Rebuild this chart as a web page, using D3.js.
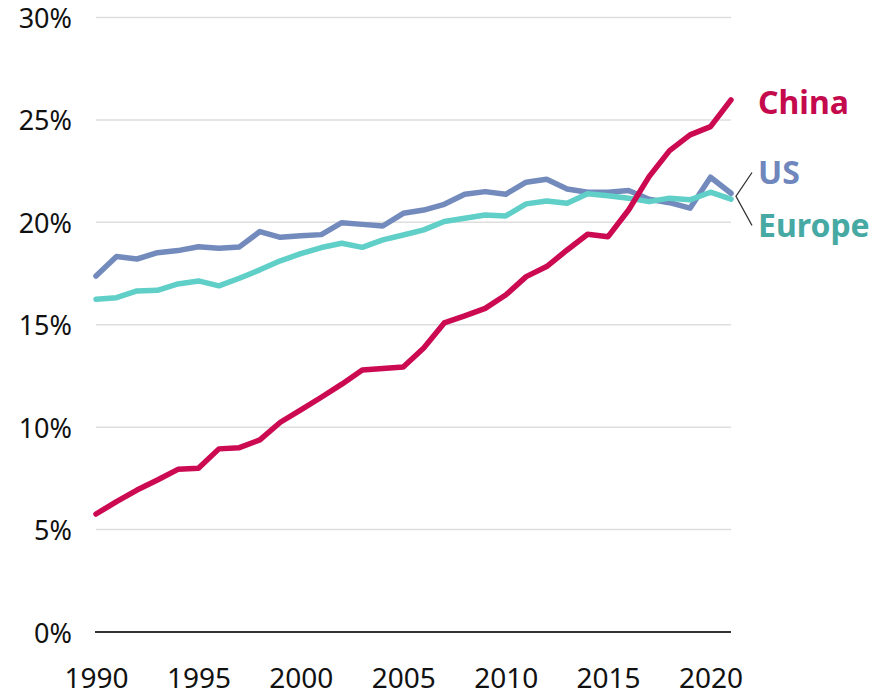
<!DOCTYPE html>
<html>
<head>
<meta charset="utf-8">
<script src="https://cdn.jsdelivr.net/npm/d3@7"></script>
<style>
  body { margin: 0; background: #fff; }
  svg text { font-family: "Noto Sans", sans-serif; }
</style>
</head>
<body>
<div id="chart"></div>
<script>
// Data (share, %)
var years = d3.range(1990, 2022);

var chinaVals = [5.76, 6.36, 6.93, 7.42, 7.94, 7.99, 8.94, 9.0, 9.38, 10.24,
    10.84, 11.46, 12.1, 12.79, 12.86, 12.94, 13.87, 15.09, 15.43, 15.8,
    16.45, 17.35, 17.84, 18.65, 19.42, 19.3, 20.6, 22.23, 23.5, 24.27,
    24.67, 25.98];

var usVals = [17.38, 18.33, 18.21, 18.52, 18.62, 18.81, 18.73, 18.8, 19.55, 19.27,
    19.34, 19.4, 19.98, 19.9, 19.82, 20.44, 20.6, 20.88, 21.37, 21.5,
    21.37, 21.96, 22.1, 21.63, 21.47, 21.47, 21.55, 21.13, 20.96, 20.69,
    22.2, 21.42];

var europeVals = [16.24, 16.32, 16.65, 16.68, 16.99, 17.14, 16.9, 17.27, 17.68, 18.12,
    18.47, 18.77, 18.98, 18.78, 19.14, 19.38, 19.63, 20.04, 20.2, 20.36,
    20.31, 20.9, 21.04, 20.93, 21.39, 21.3, 21.18, 21.01, 21.18, 21.1,
    21.47, 21.13];

var yTicks = [0, 5, 10, 15, 20, 25, 30];
var xTicks = [1990, 1995, 2000, 2005, 2010, 2015, 2020];

var series = [
    {name: "US", values: usVals, line: "#738abd", text: "#6f87bd"},
    {name: "Europe", values: europeVals, line: "#5fcfc8", text: "#46a9a3"},
    {name: "China", values: chinaVals, line: "#cc0a52", text: "#c40a4d"}
];

// svg setup
var svgWidth = 879;
var svgHeight = 695;
var margin = {top: 17.5, right: 148, bottom: 63, left: 96};
var width = svgWidth - margin.left - margin.right;
var height = svgHeight - margin.top - margin.bottom;

var svg = d3.select("#chart")
    .append("svg")
    .attr("width", svgWidth)
    .attr("height", svgHeight);

var chartGroup = svg.append("g")
    .attr("transform", `translate(${margin.left}, ${margin.top})`);

var xScale = d3.scaleLinear()
    .domain([1990, 2021])
    .range([0, width]);

var yScale = d3.scaleLinear()
    .domain([0, 30])
    .range([height, 0]);

// gridlines
chartGroup.selectAll(".grid")
    .data(yTicks.filter(d => d > 0))
    .enter()
    .append("line")
    .attr("x1", 0)
    .attr("x2", width)
    .attr("y1", d => yScale(d))
    .attr("y2", d => yScale(d))
    .attr("stroke", "#dedede")
    .attr("stroke-width", 1.5);

// zero line
chartGroup.append("line")
    .attr("x1", -1)
    .attr("x2", width)
    .attr("y1", yScale(0))
    .attr("y2", yScale(0))
    .attr("stroke", "#333")
    .attr("stroke-width", 2);

// y axis labels
var leftAxis = d3.axisLeft(yScale)
    .tickValues(yTicks)
    .tickFormat(d => d + "%")
    .tickSize(0)
    .tickPadding(24);

var yAxis = chartGroup.append("g").call(leftAxis);
yAxis.select(".domain").remove();
yAxis.selectAll("text")
    .attr("font-size", "27px")
    .attr("fill", "#111")
    .attr("font-family", "Noto Sans, sans-serif")
    .attr("dy", "0.37em");

// x axis labels
var bottomAxis = d3.axisBottom(xScale)
    .tickValues(xTicks)
    .tickFormat(d3.format("d"))
    .tickSize(0)
    .tickPadding(36);

var xAxis = chartGroup.append("g")
    .attr("transform", `translate(0, ${height})`)
    .call(bottomAxis);
xAxis.select(".domain").remove();
xAxis.selectAll("text")
    .attr("font-size", "28px")
    .attr("fill", "#111")
    .attr("font-family", "Noto Sans, sans-serif")
    .attr("dy", "0.71em");

// lines
var line = d3.line()
    .x((d, i) => xScale(years[i]))
    .y(d => yScale(d));

chartGroup.selectAll(".series")
    .data(series)
    .enter()
    .append("path")
    .attr("d", d => line(d.values))
    .attr("fill", "none")
    .attr("stroke", d => d.line)
    .attr("stroke-width", 5.5)
    .attr("stroke-linejoin", "round")
    .attr("stroke-linecap", "round");

// end labels
var lastX = xScale(2021);
var labelX = lastX + 27;
var labelY = {China: yScale(chinaVals[31]) + 3, US: 155, Europe: 208};

chartGroup.selectAll(".endlabel")
    .data(series)
    .enter()
    .append("text")
    .attr("x", labelX)
    .attr("y", d => labelY[d.name])
    .attr("dy", "0.35em")
    .attr("font-size", "32px")
    .attr("font-weight", "bold")
    .attr("fill", d => d.text)
    .text(d => d.name);

// connector lines for US / Europe
var joinY = (yScale(usVals[31]) + yScale(europeVals[31])) / 2;
chartGroup.append("path")
    .attr("d", `M${lastX + 21},${labelY.US} L${lastX + 5},${joinY} L${lastX + 21},${labelY.Europe}`)
    .attr("fill", "none")
    .attr("stroke", "#333")
    .attr("stroke-width", 1.3);
</script>
</body>
</html>
